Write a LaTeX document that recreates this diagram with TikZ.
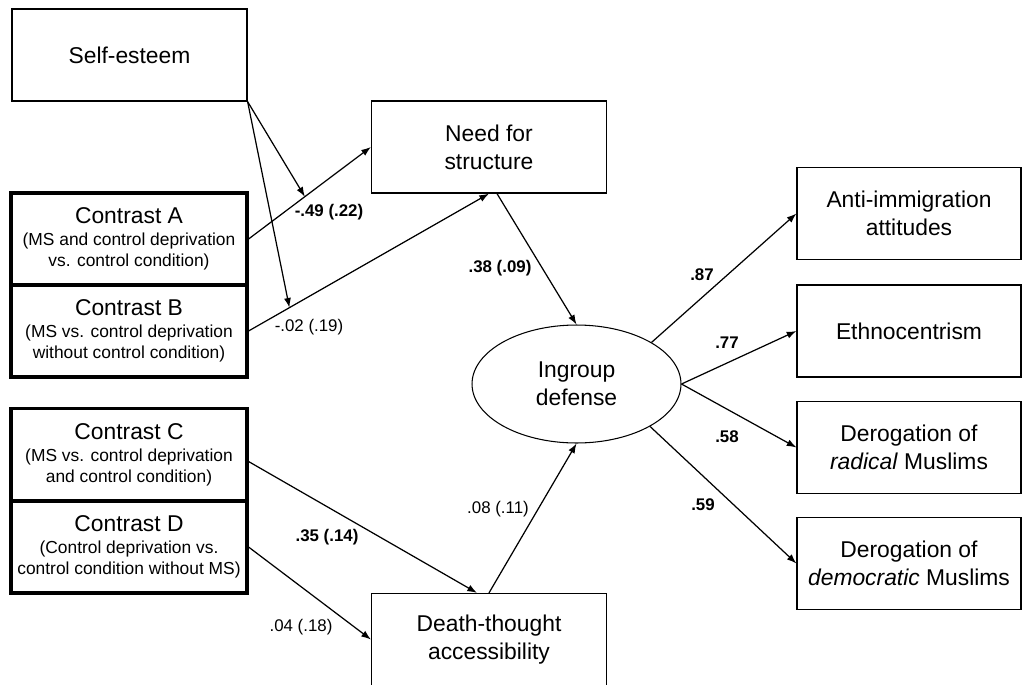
\documentclass[tikz,border=0pt]{standalone}
\usepackage{fontspec}
\setmainfont{Liberation Sans}
\usetikzlibrary{shapes,arrows.meta}

\tikzset{
	box/.style={draw, line width=0.7pt, inner sep=0pt, align=center, minimum width=4.7cm, minimum height=1.84cm, font=\fontsize{13}{16}\selectfont},
	contrast/.style={box, line width=1.8pt, minimum width=4.72cm, minimum height=1.84cm},
	outbox/.style={box, minimum width=4.48cm},
	lbl/.style={inner sep=0pt, font=\fontsize{9.6}{11}\selectfont},
	blbl/.style={inner sep=0pt, font=\fontsize{9.6}{11}\selectfont\bfseries},
	arr/.style={-{Latex[length=5.5pt,width=4pt]}, line width=0.7pt}
}
\newcommand{\subtxt}[1]{{\fontsize{9.9}{11.3}\selectfont #1}}

\begin{document}
\begin{tikzpicture}[x=0.02cm, y=-0.02cm]
			\useasboundingbox (0,0) rectangle (1022,684);
			
			\node[box] (self) at (129.5,55) {Self-esteem};
			\node[box] (need) at (489,147) {Need for\\structure};
			\node[box] (death) at (489,639.5) {Death-thought\\accessibility};
			\node[draw, ellipse, line width=0.6pt, inner sep=0pt, minimum width=4.18cm, minimum height=2.36cm, align=center, font=\fontsize{13}{16}\selectfont] (ing) at (576.5,384) {Ingroup\\defense};
			
			\node[contrast] (cA) at (129,239) {Contrast A\\[-3.5pt]\subtxt{(MS and control deprivation}\\[-4pt]\subtxt{vs. control condition)}};
			\node[contrast] (cB) at (129,331) {Contrast B\\[-3.5pt]\subtxt{(MS vs. control deprivation}\\[-4pt]\subtxt{without control condition)}};
			\node[contrast] (cC) at (129,454.5) {Contrast C\\[-3.5pt]\subtxt{(MS vs. control deprivation}\\[-4pt]\subtxt{and control condition)}};
			\node[contrast] (cD) at (129,547) {Contrast D\\[-3.5pt]\subtxt{(Control deprivation vs.}\\[-4pt]\subtxt{control condition without MS)}};
			
			\node[outbox] (anti) at (909,213.5) {Anti-immigration\\attitudes};
			\node[outbox] (ethno) at (909,331) {Ethnocentrism};
			\node[outbox] (rad) at (909,447.5) {Derogation of\\\textit{radical} Muslims};
			\node[outbox] (dem) at (909,563.5) {Derogation of\\\textit{democratic} Muslims};
			
			\draw[arr] (cA.east) -- coordinate[pos=0.46] (hitA) (need.west);
			\draw[arr] (cB.east) -- coordinate[pos=0.17] (hitB) (need.south);
			\draw[arr] (self.south east) -- (hitA);
			\draw[arr] (self.south east) -- (hitB);
			\draw[arr] ([xshift=0.16cm]need.south) -- (ing.north);
			\draw[arr] ([yshift=-0.14cm]cC.east) -- ([xshift=-0.24cm]death.north);
			\draw[arr] (cD.east) -- (death.west);
			\draw[arr] (death.north) -- (ing.south);
			\draw[arr] (ing.29) -- (anti.west);
			\draw[arr] (ing.east) -- (ethno.west);
			\draw[arr] (ing.east) -- (rad.west);
			\draw[arr] (ing.-30) -- (dem.west);
			
			\node[blbl] (bA) at (329,212) {-.49 (.22)};
			\node[lbl] (bB) at (309,327) {-.02 (.19)};
			\node[blbl] (bNeed) at (500,268) {.38 (.09)};
			\node[blbl] (bC) at (327,537) {.35 (.14)};
			\node[lbl] (bD) at (301,627) {.04 (.18)};
			\node[lbl] (bDeath) at (498,509) {.08 (.11)};
			\node[blbl] (bAnti) at (702,275) {.87};
			\node[blbl] (bEthno) at (727,343) {.77};
			\node[blbl] (bRad) at (727,437) {.58};
			\node[blbl] (bDem) at (703,505) {.59};
			
		\end{tikzpicture}
\end{document}
